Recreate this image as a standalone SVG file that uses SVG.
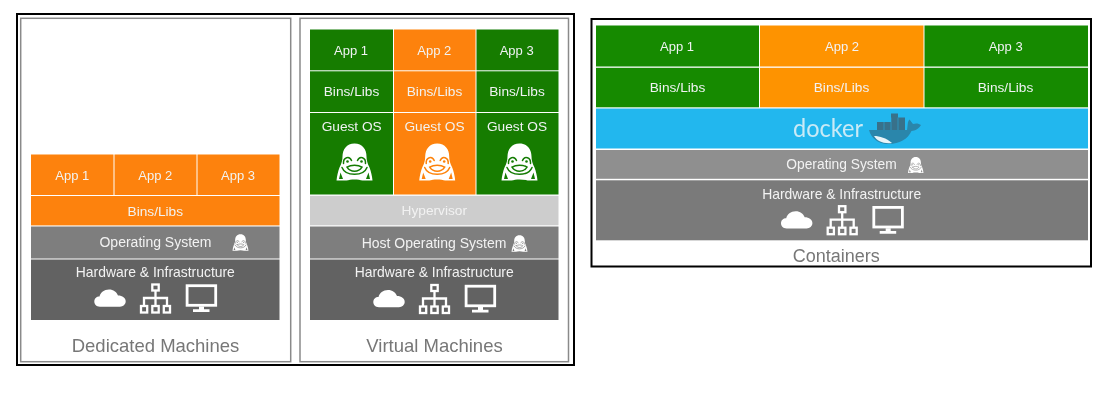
<svg xmlns="http://www.w3.org/2000/svg" xmlns:xlink="http://www.w3.org/1999/xlink" width="1115" height="413" viewBox="0 0 1115 413">
<style>
text{font-family:"Liberation Sans",Arial,sans-serif;text-anchor:middle;fill:#f2f2f2;font-size:13px}
.os{font-size:14px}
.bin{font-size:13.7px}
.hwt{font-size:13.9px}
.cap{font-size:18.5px;fill:#777}
.frame{fill:#fff;stroke:#000;stroke-width:2}
.panel{fill:#fff;stroke:#8a8a8a;stroke-width:1.5}
.or1{fill:#fd8208}.gr1{fill:#137c04}.os1{fill:#7e7e7e}.hw1{fill:#626262}.hyp{fill:#cdcdcd}
.or2{fill:#fe9306}.gr2{fill:#128a02}.os2{fill:#8f8f8f}.hw2{fill:#7a7a7a}.blu{fill:#24b7ee}
</style>
<defs>
<filter id="soft" filterUnits="userSpaceOnUse" x="0" y="0" width="1115" height="413"><feGaussianBlur stdDeviation="0.35"/></filter>
<symbol id="tux" viewBox="0 0 36 37" overflow="visible">
<path fill="#fff" d="M18 0C10 0 6 6 6 13C6 17 5 20 3 24C1.500 28 .5 32 0 37L10 37C14 35.500 22 35.500 26 37L36 37C35.500 32 34.500 28 33 24C31 20 30 17 30 13C30 6 26 0 18 0Z"/>
<g fill="none" stroke="currentColor" stroke-width="1.500" stroke-linecap="round">
<path d="M7 20C6.500 13.500 13 12 15 17"/>
<path d="M21 17C23 12 29.500 13.500 29 20"/>
<path d="M10.500 23.500C14.500 21 21.500 21 25.500 23.500C22 29 14 29 10.500 23.500Z"/>
<path d="M5.500 24C9 33 27 33 30.500 24"/>
</g>
<circle cx="11" cy="18" r="1.300" fill="currentColor"/>
<circle cx="25" cy="18" r="1.300" fill="currentColor"/>
<path fill="currentColor" d="M4 29L2.500 35.500L6.500 35.500Z"/>
<path fill="currentColor" d="M32 29L33.500 35.500L29.500 35.500Z"/>
</symbol>
<g id="icons">
<path fill="#fff" d="M100 306.700C96 306.700 94.300 304 94.300 301.500C94.300 298.500 96.500 296.500 99.500 296.500C100.500 292.500 104 289.500 109 289.500C113.500 289.500 116.500 292 118 295.500C122.500 295.500 125.700 298 125.700 301.300C125.700 304.500 123 306.700 120 306.700Z"/>
<g fill="none" stroke="#fff" stroke-width="2.300">
<rect x="152.300" y="284.500" width="6.400" height="6"/>
<rect x="141" y="306" width="6.200" height="6.500"/>
<rect x="152.300" y="306" width="6.400" height="6.500"/>
<rect x="163.800" y="306" width="6.200" height="6.500"/>
<path d="M155.500 290.500V306M144 306V298H167V306"/>
<rect x="187.100" y="285.700" width="28.600" height="19.600" stroke-width="2.800"/>
</g>
<path fill="#fff" d="M199 306.500H204V309.300H209.500V312H193V309.300H199Z"/>
</g>
</defs>

<rect width="1115" height="413" fill="#fff"/>
<g filter="url(#soft)">
<g id="machines-frame">
<rect class="frame" x="17" y="14" width="557" height="351"/>
<rect class="panel" x="20.700" y="18.300" width="270" height="343.400"/>
<rect class="panel" x="300" y="18.300" width="268.500" height="343.400"/>
</g>

<g id="dedicated">
<rect class="or1" x="31" y="154.500" width="82.500" height="40.500"/>
<rect class="or1" x="114.500" y="154.500" width="82" height="40.500"/>
<rect class="or1" x="197.500" y="154.500" width="82" height="40.500"/>
<text x="72.300" y="179.500">App 1</text>
<text x="155.300" y="179.500">App 2</text>
<text x="238" y="179.500">App 3</text>
<rect class="or1" x="31" y="196" width="248.500" height="29.400"/>
<text class="bin" x="155.300" y="215.500">Bins/Libs</text>
<rect class="os1" x="31" y="226.500" width="248.500" height="32"/>
<text class="os" x="155.500" y="247.300">Operating System</text>
<use href="#tux" xlink:href="#tux" x="232.500" y="233.500" width="16" height="18" color="#7e7e7e"/>
<rect class="hw1" x="31" y="259.500" width="248.500" height="60.500"/>
<text class="hwt" x="155.300" y="277">Hardware &amp; Infrastructure</text>
<use href="#icons" xlink:href="#icons"/>
<text class="cap" x="155.500" y="351.700">Dedicated Machines</text>
</g>

<g id="virtual">
<rect class="gr1" x="310" y="29.500" width="83" height="40.800"/>
<rect class="or1" x="394" y="29.500" width="81.500" height="40.800"/>
<rect class="gr1" x="476.500" y="29.500" width="82" height="40.800"/>
<rect class="gr1" x="310" y="71.300" width="83" height="40.700"/>
<rect class="or1" x="394" y="71.300" width="81.500" height="40.700"/>
<rect class="gr1" x="476.500" y="71.300" width="82" height="40.700"/>
<rect class="gr1" x="310" y="113" width="83" height="81.500"/>
<rect class="or1" x="394" y="113" width="81.500" height="81.500"/>
<rect class="gr1" x="476.500" y="113" width="82" height="81.500"/>
<text x="351" y="55.300">App 1</text>
<text x="434.300" y="55.300">App 2</text>
<text x="516.700" y="55.300">App 3</text>
<text class="bin" x="351.500" y="96">Bins/Libs</text>
<text class="bin" x="434.500" y="96">Bins/Libs</text>
<text class="bin" x="517" y="96">Bins/Libs</text>
<text class="bin" x="351.700" y="131">Guest OS</text>
<text class="bin" x="434.500" y="131">Guest OS</text>
<text class="bin" x="517" y="131">Guest OS</text>
<use href="#tux" xlink:href="#tux" x="336.500" y="143.300" width="36" height="37.500" color="#137c04"/>
<use href="#tux" xlink:href="#tux" x="419.200" y="143.300" width="36" height="37.500" color="#fd8208"/>
<use href="#tux" xlink:href="#tux" x="501.500" y="143.300" width="36" height="37.500" color="#137c04"/>
<rect class="hyp" x="310" y="195.800" width="248.500" height="29.500"/>
<text class="bin" x="434.300" y="215.300">Hypervisor</text>
<rect class="os1" x="310" y="226.500" width="248.500" height="32"/>
<text class="os" x="434" y="248">Host Operating System</text>
<use href="#tux" xlink:href="#tux" x="511.500" y="235" width="16" height="17" color="#7e7e7e"/>
<rect class="hw1" x="310" y="259.500" width="248.500" height="60.500"/>
<text class="hwt" x="434.200" y="277">Hardware &amp; Infrastructure</text>
<use href="#icons" xlink:href="#icons" transform="translate(279 .5)"/>
<text class="cap" x="434.500" y="352">Virtual Machines</text>
</g>

<g id="containers">
<rect class="frame" x="591.500" y="19" width="499.500" height="247.500"/>
<rect class="gr2" x="596" y="25.500" width="163" height="41"/>
<rect class="or2" x="760" y="25.500" width="163.500" height="41"/>
<rect class="gr2" x="924.500" y="25.500" width="163.500" height="41"/>
<rect class="gr2" x="596" y="67.800" width="163" height="39.500"/>
<rect class="or2" x="760" y="67.800" width="163.500" height="39.500"/>
<rect class="gr2" x="924.500" y="67.800" width="163.500" height="39.500"/>
<text x="677" y="51">App 1</text>
<text x="842" y="51">App 2</text>
<text x="1005.700" y="51">App 3</text>
<text class="bin" x="677.500" y="91.500">Bins/Libs</text>
<text class="bin" x="841.500" y="91.500">Bins/Libs</text>
<text class="bin" x="1005.500" y="91.500">Bins/Libs</text>
<rect class="blu" x="596" y="108.500" width="492" height="40"/>
<text x="828" y="136.700" style="font-family:Lato,'Open Sans',sans-serif;font-size:25px;font-weight:400;fill:#c9eaf6" textLength="70" lengthAdjust="spacingAndGlyphs">docker</text>
<g id="whale">
<path fill="#38718a" d="M877 122H891V113.500H898V117.500H905V130H877Z"/>
<path fill="none" stroke="#24b7ee" stroke-width=".5" d="M884 122V130M891 117.500V130M898 117.500V130"/>
<path fill="#2a86ab" d="M869 130H907C908 126 907 122 909.500 119.500C911 121.500 912 122.500 913 124C916 123 919 123.500 921 125C919.500 128 915 131 911.500 131C908 139 899 144 889 144C878 144 871 138 869 130Z"/>
<path fill="#e8f4f8" d="M874 136C880 136 886 138 892 143C883 144 877 141 874 136Z"/>
</g>
<rect class="os2" x="596" y="150" width="492" height="28.800"/>
<text class="os" x="841.500" y="169.300" style="font-size:13.800px">Operating System</text>
<use href="#tux" xlink:href="#tux" x="908" y="157" width="15.500" height="16" color="#8f8f8f"/>
<rect class="hw2" x="596" y="180.300" width="492" height="60"/>
<text class="hwt" x="841.700" y="199">Hardware &amp; Infrastructure</text>
<use href="#icons" xlink:href="#icons" transform="translate(686.700 -78.300)"/>
<text class="cap" x="836.300" y="262.300" style="font-size:18px">Containers</text>
</g>
</g>
</svg>
